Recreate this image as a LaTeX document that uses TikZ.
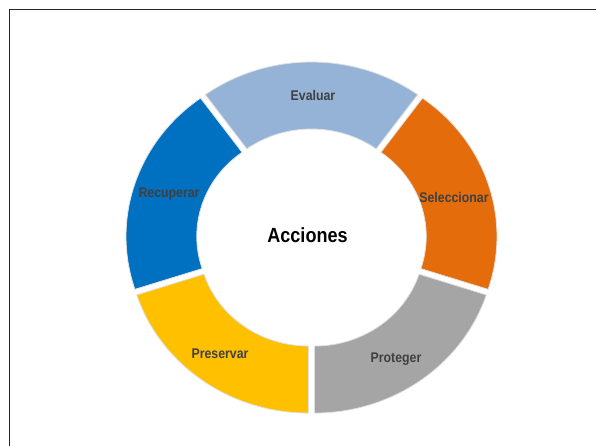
\documentclass[tikz,border=0pt]{standalone}
\usepackage{fontspec}
\setmainfont[FakeStretch=0.88]{Liberation Sans}

\definecolor{pgray}{HTML}{A5A5A5}
\definecolor{porange}{HTML}{E46C0A}
\definecolor{plight}{HTML}{95B3D7}
\definecolor{pblue}{HTML}{0070C0}
\definecolor{pyellow}{HTML}{FFC000}
\definecolor{ptext}{HTML}{404040}

\begin{document}
\begin{tikzpicture}[x=1pt, y=1pt, line join=round,
		seg/.style={draw=black!12, line width=0.8pt},
		lbl/.style={anchor=base, text=ptext, font=\bfseries\fontsize{14}{16}\selectfont}]
			% Page bounds
			\useasboundingbox (0,0) rectangle (596,445);
			
			% Frame, open to the right and bottom
			\draw[black!85, line width=1pt] (9.5,-2) -- (9.5,435.5) -- (598,435.5);
			
			% Ring of five pieces, each pushed out along its middle angle
			\begin{scope}[shift={(311.5,207)}]
				\foreach \s/\col in {270/pgray, 342/porange, 54/plight, 126/pblue, 198/pyellow}{
					\pgfmathsetmacro\e{\s+72}
					\pgfmathsetmacro\m{\s+36}
					\draw[seg, fill=\col, shift={(\m:5)}]
					(\s:180.7 and 171) arc[start angle=\s, end angle=\e, x radius=180.7, y radius=171]
					-- (\e:110 and 104) arc[start angle=\e, end angle=\s, x radius=110, y radius=104]
					-- cycle;
				}
			\end{scope}
			
			% Piece labels
			\node[lbl] (evaluar) at (313,344) {Evaluar};
			\node[lbl] (seleccionar) at (454,243) {Seleccionar};
			\node[lbl] (proteger) at (396,83) {Proteger};
			\node[lbl] (preservar) at (220,87) {Preservar};
			\node[lbl] (recuperar) at (169,248) {Recuperar};
			
			% Centre title
			\node[anchor=base, font=\bfseries\fontsize{20.5}{24}\selectfont] (acciones) at (307.5,203) {Acciones};
		\end{tikzpicture}
\end{document}
